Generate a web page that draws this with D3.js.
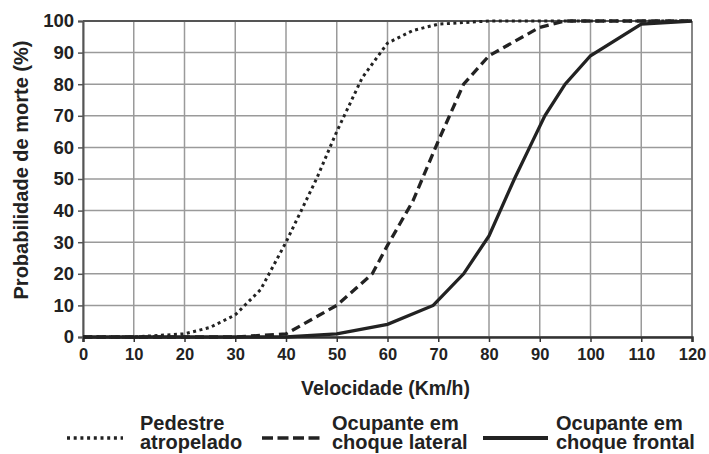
<!DOCTYPE html>
<meta charset="utf-8">
<style>
    body { margin: 0; background: #fff; }
    text { font-family: "Liberation Sans", Arial, sans-serif; font-weight: bold; fill: #222; }
    .grid line { stroke: #9a9a9a; stroke-width: 1.5; }
</style>

<svg width="709" height="454"></svg>

<script src="https://cdnjs.cloudflare.com/ajax/libs/d3/7.8.5/d3.min.js"></script>

<script>
    // speed (km/h) and probability of death (%)
    var pedestreX = [0, 10, 20, 25, 30, 35, 40, 46, 50, 55, 60, 65, 70, 80, 120];
    var pedestreY = [0, 0, 1, 3, 7, 15, 30, 50, 65, 82, 93, 97, 99, 100, 100];

    var lateralX = [0, 30, 40, 50, 57, 60, 65, 70, 75, 80, 90, 95, 120];
    var lateralY = [0, 0, 1, 10, 20, 29, 43, 62, 80, 89, 98, 100, 100];

    var frontalX = [0, 40, 50, 60, 69, 75, 80, 85, 88, 91, 95, 100, 110, 120];
    var frontalY = [0, 0, 1, 4, 10, 20, 32, 50, 60, 70, 80, 89, 99, 100];

    var xTicks = d3.range(0, 121, 10);
    var yTicks = d3.range(0, 101, 10);

    var legendLabels = [["Pedestre", "atropelado"], ["Ocupante em", "choque lateral"], ["Ocupante em", "choque frontal"]];
    var dashes = ["3,3.5", "9,5", null];

    var svg = d3.select("svg");
    var margin = {left: 83, right: 17, top: 21, bottom: 117};
    var width = 709 - margin.left - margin.right,
        height = 454 - margin.top - margin.bottom;

    var x = d3.scaleLinear().domain([0, 120]).range([0, width]);
    var y = d3.scaleLinear().domain([0, 100]).range([height, 0]);

    var g = svg.append("g").attr("transform", "translate(" + margin.left + "," + margin.top + ")");

    // grid
    var grid = g.append("g").attr("class", "grid");
    grid.selectAll(".vx").data(xTicks).enter().append("line")
            .attr("x1", function (d) { return x(d); })
            .attr("x2", function (d) { return x(d); })
            .attr("y1", 0).attr("y2", height);
    grid.selectAll(".hy").data(yTicks).enter().append("line")
            .attr("y1", function (d) { return y(d); })
            .attr("y2", function (d) { return y(d); })
            .attr("x1", 0).attr("x2", width);

    // top and right border
    g.append("line").attr("x1", 0).attr("x2", width).attr("y1", 0).attr("y2", 0)
            .attr("stroke", "#555").attr("stroke-width", 2);
    g.append("line").attr("x1", width).attr("x2", width).attr("y1", 0).attr("y2", height)
            .attr("stroke", "#777").attr("stroke-width", 1.5);

    // axes
    var xAxis = g.append("g").attr("transform", "translate(0," + height + ")")
            .call(d3.axisBottom(x).tickValues(xTicks).tickSize(5).tickPadding(6));
    var yAxis = g.append("g")
            .call(d3.axisLeft(y).tickValues(yTicks).tickSize(5).tickPadding(4));

    xAxis.select(".domain").attr("stroke", "#333").attr("stroke-width", 2.5);
    yAxis.select(".domain").attr("stroke", "#555").attr("stroke-width", 2);
    xAxis.selectAll(".tick line").attr("stroke", "#333").attr("stroke-width", 1.5);
    yAxis.selectAll(".tick line").attr("stroke", "#555").attr("stroke-width", 1.5);
    xAxis.selectAll("text").style("font-size", "16.5px").style("font-family", "Liberation Sans")
            .style("font-weight", "bold").attr("fill", "#222");
    yAxis.selectAll("text").style("font-size", "18.5px").style("font-family", "Liberation Sans")
            .style("font-weight", "bold").attr("fill", "#222");

    // curves
    var line = d3.line()
            .x(function (d) { return x(d[0]); })
            .y(function (d) { return y(d[1]); });

    var series = [d3.zip(pedestreX, pedestreY), d3.zip(lateralX, lateralY), d3.zip(frontalX, frontalY)];

    g.selectAll(".curve").data(series).enter().append("path")
            .attr("class", "curve")
            .attr("fill", "none")
            .attr("stroke", "#222")
            .attr("stroke-width", function (d, i) { return i === 0 ? 3 : 3.3; })
            .attr("stroke-dasharray", function (d, i) { return dashes[i]; })
            .attr("d", line);

    // axis titles
    svg.append("text")
            .attr("x", margin.left + width / 2 - 2)
            .attr("y", 395)
            .attr("text-anchor", "middle")
            .style("font-size", "19.5px")
            .text("Velocidade (Km/h)");

    svg.append("text")
            .attr("transform", "translate(28,170) rotate(-90)")
            .attr("text-anchor", "middle")
            .style("font-size", "20px")
            .text("Probabilidade de morte (%)");

    // legend
    var legendX = [67, 262, 483];
    var legend = svg.selectAll(".legend").data(legendLabels).enter().append("g")
            .attr("transform", function (d, i) { return "translate(" + legendX[i] + ",0)"; });

    legend.append("line")
            .attr("x1", 0).attr("x2", function (d, i) { return i === 0 ? 56 : (i === 1 ? 58 : 65); })
            .attr("y1", 438).attr("y2", 438)
            .attr("stroke", "#222")
            .attr("stroke-width", function (d, i) { return i === 2 ? 4 : 3.5; })
            .attr("stroke-dasharray", function (d, i) { return i === 0 ? "3,3.7" : (i === 1 ? "11,4.5" : null); });

    legend.append("text")
            .attr("x", function (d, i) { return i === 0 ? 73 : (i === 1 ? 70 : 73); })
            .attr("y", 430)
            .style("font-size", "20px")
            .text(function (d) { return d[0]; });
    legend.append("text")
            .attr("x", function (d, i) { return i === 0 ? 73 : (i === 1 ? 70 : 73); })
            .attr("y", 449)
            .style("font-size", "20px")
            .text(function (d) { return d[1]; });
</script>
